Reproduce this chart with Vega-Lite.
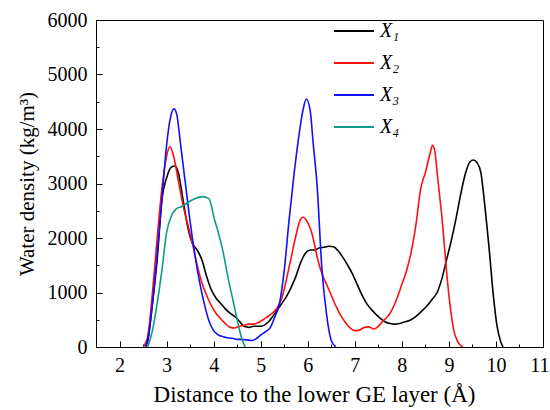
{
  "$schema": "https://vega.github.io/schema/vega-lite/v6.json",
  "width": 447,
  "height": 327,
  "autosize": {"type": "none"},
  "padding": {"left": 96, "top": 20, "right": 7, "bottom": 63},
  "background": "white",
  "config": {
    "view": {"stroke": "black", "strokeWidth": 1},
    "axis": {
      "domainColor": "black",
      "tickColor": "black",
      "labelColor": "black",
      "titleColor": "black",
      "labelFont": "Liberation Serif",
      "titleFont": "Liberation Serif",
      "labelFontSize": 20,
      "titleFontSize": 21,
      "titleFontWeight": "normal",
      "grid": false
    }
  },
  "data": {
    "values": [
      {"x": 2.55, "d": 0, "s": "X₁"}, {"x": 2.6, "d": 100, "s": "X₁"}, {"x": 2.7, "d": 800, "s": "X₁"}, {"x": 2.8, "d": 1600, "s": "X₁"}, {"x": 2.9, "d": 2700, "s": "X₁"}, {"x": 3.0, "d": 3100, "s": "X₁"}, {"x": 3.1, "d": 3300, "s": "X₁"}, {"x": 3.18, "d": 3320, "s": "X₁"}, {"x": 3.25, "d": 3200, "s": "X₁"}, {"x": 3.35, "d": 2700, "s": "X₁"}, {"x": 3.45, "d": 2200, "s": "X₁"}, {"x": 3.55, "d": 1900, "s": "X₁"}, {"x": 3.65, "d": 1780, "s": "X₁"}, {"x": 3.75, "d": 1600, "s": "X₁"}, {"x": 3.85, "d": 1300, "s": "X₁"}, {"x": 3.95, "d": 1050, "s": "X₁"}, {"x": 4.05, "d": 900, "s": "X₁"}, {"x": 4.15, "d": 800, "s": "X₁"}, {"x": 4.25, "d": 700, "s": "X₁"}, {"x": 4.35, "d": 620, "s": "X₁"}, {"x": 4.45, "d": 560, "s": "X₁"}, {"x": 4.55, "d": 470, "s": "X₁"}, {"x": 4.65, "d": 380, "s": "X₁"}, {"x": 4.75, "d": 360, "s": "X₁"}, {"x": 4.85, "d": 380, "s": "X₁"}, {"x": 4.95, "d": 380, "s": "X₁"}, {"x": 5.05, "d": 390, "s": "X₁"}, {"x": 5.15, "d": 450, "s": "X₁"}, {"x": 5.25, "d": 550, "s": "X₁"}, {"x": 5.35, "d": 680, "s": "X₁"}, {"x": 5.45, "d": 800, "s": "X₁"}, {"x": 5.55, "d": 930, "s": "X₁"}, {"x": 5.65, "d": 1100, "s": "X₁"}, {"x": 5.75, "d": 1300, "s": "X₁"}, {"x": 5.85, "d": 1550, "s": "X₁"}, {"x": 5.95, "d": 1720, "s": "X₁"}, {"x": 6.05, "d": 1780, "s": "X₁"}, {"x": 6.15, "d": 1780, "s": "X₁"}, {"x": 6.25, "d": 1820, "s": "X₁"}, {"x": 6.35, "d": 1830, "s": "X₁"}, {"x": 6.45, "d": 1850, "s": "X₁"}, {"x": 6.55, "d": 1840, "s": "X₁"}, {"x": 6.65, "d": 1760, "s": "X₁"}, {"x": 6.75, "d": 1640, "s": "X₁"}, {"x": 6.85, "d": 1500, "s": "X₁"}, {"x": 6.95, "d": 1340, "s": "X₁"}, {"x": 7.05, "d": 1150, "s": "X₁"}, {"x": 7.15, "d": 960, "s": "X₁"}, {"x": 7.25, "d": 800, "s": "X₁"}, {"x": 7.35, "d": 690, "s": "X₁"}, {"x": 7.45, "d": 600, "s": "X₁"}, {"x": 7.55, "d": 520, "s": "X₁"}, {"x": 7.65, "d": 460, "s": "X₁"}, {"x": 7.75, "d": 430, "s": "X₁"}, {"x": 7.85, "d": 420, "s": "X₁"}, {"x": 7.95, "d": 430, "s": "X₁"}, {"x": 8.05, "d": 460, "s": "X₁"}, {"x": 8.15, "d": 480, "s": "X₁"}, {"x": 8.25, "d": 530, "s": "X₁"}, {"x": 8.35, "d": 600, "s": "X₁"}, {"x": 8.45, "d": 680, "s": "X₁"}, {"x": 8.55, "d": 770, "s": "X₁"}, {"x": 8.65, "d": 880, "s": "X₁"}, {"x": 8.75, "d": 1000, "s": "X₁"}, {"x": 8.85, "d": 1250, "s": "X₁"}, {"x": 8.95, "d": 1600, "s": "X₁"}, {"x": 9.05, "d": 1950, "s": "X₁"}, {"x": 9.15, "d": 2350, "s": "X₁"}, {"x": 9.25, "d": 2800, "s": "X₁"}, {"x": 9.35, "d": 3180, "s": "X₁"}, {"x": 9.45, "d": 3400, "s": "X₁"}, {"x": 9.52, "d": 3430, "s": "X₁"}, {"x": 9.6, "d": 3380, "s": "X₁"}, {"x": 9.68, "d": 3200, "s": "X₁"}, {"x": 9.75, "d": 2700, "s": "X₁"}, {"x": 9.85, "d": 1850, "s": "X₁"}, {"x": 9.95, "d": 900, "s": "X₁"}, {"x": 10.02, "d": 400, "s": "X₁"}, {"x": 10.1, "d": 100, "s": "X₁"}, {"x": 10.15, "d": 0, "s": "X₁"},

      {"x": 2.5, "d": 0, "s": "X₂"}, {"x": 2.6, "d": 200, "s": "X₂"}, {"x": 2.7, "d": 1000, "s": "X₂"}, {"x": 2.8, "d": 2000, "s": "X₂"}, {"x": 2.9, "d": 2900, "s": "X₂"}, {"x": 3.0, "d": 3500, "s": "X₂"}, {"x": 3.07, "d": 3680, "s": "X₂"}, {"x": 3.15, "d": 3500, "s": "X₂"}, {"x": 3.25, "d": 3050, "s": "X₂"}, {"x": 3.35, "d": 2600, "s": "X₂"}, {"x": 3.45, "d": 2250, "s": "X₂"}, {"x": 3.55, "d": 1900, "s": "X₂"}, {"x": 3.65, "d": 1500, "s": "X₂"}, {"x": 3.75, "d": 1180, "s": "X₂"}, {"x": 3.85, "d": 950, "s": "X₂"}, {"x": 3.95, "d": 760, "s": "X₂"}, {"x": 4.05, "d": 620, "s": "X₂"}, {"x": 4.15, "d": 520, "s": "X₂"}, {"x": 4.25, "d": 430, "s": "X₂"}, {"x": 4.35, "d": 360, "s": "X₂"}, {"x": 4.45, "d": 350, "s": "X₂"}, {"x": 4.55, "d": 380, "s": "X₂"}, {"x": 4.65, "d": 400, "s": "X₂"}, {"x": 4.75, "d": 420, "s": "X₂"}, {"x": 4.85, "d": 420, "s": "X₂"}, {"x": 4.95, "d": 450, "s": "X₂"}, {"x": 5.05, "d": 500, "s": "X₂"}, {"x": 5.15, "d": 560, "s": "X₂"}, {"x": 5.25, "d": 620, "s": "X₂"}, {"x": 5.35, "d": 720, "s": "X₂"}, {"x": 5.45, "d": 900, "s": "X₂"}, {"x": 5.55, "d": 1250, "s": "X₂"}, {"x": 5.65, "d": 1650, "s": "X₂"}, {"x": 5.75, "d": 2050, "s": "X₂"}, {"x": 5.85, "d": 2350, "s": "X₂"}, {"x": 5.9, "d": 2380, "s": "X₂"}, {"x": 6.0, "d": 2280, "s": "X₂"}, {"x": 6.1, "d": 2050, "s": "X₂"}, {"x": 6.2, "d": 1650, "s": "X₂"}, {"x": 6.3, "d": 1350, "s": "X₂"}, {"x": 6.4, "d": 1150, "s": "X₂"}, {"x": 6.5, "d": 950, "s": "X₂"}, {"x": 6.6, "d": 750, "s": "X₂"}, {"x": 6.7, "d": 580, "s": "X₂"}, {"x": 6.8, "d": 450, "s": "X₂"}, {"x": 6.9, "d": 350, "s": "X₂"}, {"x": 7.0, "d": 300, "s": "X₂"}, {"x": 7.1, "d": 310, "s": "X₂"}, {"x": 7.2, "d": 360, "s": "X₂"}, {"x": 7.3, "d": 370, "s": "X₂"}, {"x": 7.4, "d": 330, "s": "X₂"}, {"x": 7.5, "d": 380, "s": "X₂"}, {"x": 7.6, "d": 480, "s": "X₂"}, {"x": 7.7, "d": 560, "s": "X₂"}, {"x": 7.8, "d": 700, "s": "X₂"}, {"x": 7.9, "d": 900, "s": "X₂"}, {"x": 8.0, "d": 1150, "s": "X₂"}, {"x": 8.1, "d": 1400, "s": "X₂"}, {"x": 8.2, "d": 1750, "s": "X₂"}, {"x": 8.3, "d": 2250, "s": "X₂"}, {"x": 8.4, "d": 2900, "s": "X₂"}, {"x": 8.5, "d": 3200, "s": "X₂"}, {"x": 8.6, "d": 3550, "s": "X₂"}, {"x": 8.65, "d": 3700, "s": "X₂"}, {"x": 8.7, "d": 3600, "s": "X₂"}, {"x": 8.75, "d": 3200, "s": "X₂"}, {"x": 8.8, "d": 2800, "s": "X₂"}, {"x": 8.85, "d": 2400, "s": "X₂"}, {"x": 8.9, "d": 1900, "s": "X₂"}, {"x": 8.95, "d": 1400, "s": "X₂"}, {"x": 9.0, "d": 950, "s": "X₂"}, {"x": 9.05, "d": 600, "s": "X₂"}, {"x": 9.1, "d": 320, "s": "X₂"}, {"x": 9.2, "d": 80, "s": "X₂"}, {"x": 9.3, "d": 0, "s": "X₂"},

      {"x": 2.55, "d": 0, "s": "X₃"}, {"x": 2.6, "d": 150, "s": "X₃"}, {"x": 2.7, "d": 800, "s": "X₃"}, {"x": 2.8, "d": 1700, "s": "X₃"}, {"x": 2.9, "d": 2700, "s": "X₃"}, {"x": 3.0, "d": 3700, "s": "X₃"}, {"x": 3.08, "d": 4200, "s": "X₃"}, {"x": 3.16, "d": 4370, "s": "X₃"}, {"x": 3.22, "d": 4250, "s": "X₃"}, {"x": 3.3, "d": 3700, "s": "X₃"}, {"x": 3.4, "d": 3000, "s": "X₃"}, {"x": 3.5, "d": 2300, "s": "X₃"}, {"x": 3.6, "d": 1700, "s": "X₃"}, {"x": 3.7, "d": 1200, "s": "X₃"}, {"x": 3.8, "d": 800, "s": "X₃"}, {"x": 3.9, "d": 480, "s": "X₃"}, {"x": 4.0, "d": 300, "s": "X₃"}, {"x": 4.1, "d": 220, "s": "X₃"}, {"x": 4.2, "d": 190, "s": "X₃"}, {"x": 4.3, "d": 170, "s": "X₃"}, {"x": 4.4, "d": 160, "s": "X₃"}, {"x": 4.5, "d": 140, "s": "X₃"}, {"x": 4.6, "d": 140, "s": "X₃"}, {"x": 4.7, "d": 130, "s": "X₃"}, {"x": 4.8, "d": 120, "s": "X₃"}, {"x": 4.9, "d": 150, "s": "X₃"}, {"x": 5.0, "d": 220, "s": "X₃"}, {"x": 5.1, "d": 280, "s": "X₃"}, {"x": 5.2, "d": 350, "s": "X₃"}, {"x": 5.3, "d": 550, "s": "X₃"}, {"x": 5.4, "d": 800, "s": "X₃"}, {"x": 5.5, "d": 1400, "s": "X₃"}, {"x": 5.6, "d": 2300, "s": "X₃"}, {"x": 5.7, "d": 3100, "s": "X₃"}, {"x": 5.8, "d": 3800, "s": "X₃"}, {"x": 5.9, "d": 4350, "s": "X₃"}, {"x": 5.97, "d": 4550, "s": "X₃"}, {"x": 6.05, "d": 4350, "s": "X₃"}, {"x": 6.12, "d": 3700, "s": "X₃"}, {"x": 6.2, "d": 2950, "s": "X₃"}, {"x": 6.3, "d": 1450, "s": "X₃"}, {"x": 6.4, "d": 600, "s": "X₃"}, {"x": 6.5, "d": 120, "s": "X₃"}, {"x": 6.6, "d": 0, "s": "X₃"},

      {"x": 2.6, "d": 0, "s": "X₄"}, {"x": 2.7, "d": 300, "s": "X₄"}, {"x": 2.8, "d": 800, "s": "X₄"}, {"x": 2.9, "d": 1400, "s": "X₄"}, {"x": 3.0, "d": 2100, "s": "X₄"}, {"x": 3.1, "d": 2400, "s": "X₄"}, {"x": 3.2, "d": 2530, "s": "X₄"}, {"x": 3.3, "d": 2570, "s": "X₄"}, {"x": 3.4, "d": 2620, "s": "X₄"}, {"x": 3.5, "d": 2680, "s": "X₄"}, {"x": 3.6, "d": 2720, "s": "X₄"}, {"x": 3.7, "d": 2750, "s": "X₄"}, {"x": 3.8, "d": 2760, "s": "X₄"}, {"x": 3.85, "d": 2740, "s": "X₄"}, {"x": 3.9, "d": 2720, "s": "X₄"}, {"x": 3.95, "d": 2600, "s": "X₄"}, {"x": 4.0, "d": 2400, "s": "X₄"}, {"x": 4.1, "d": 2100, "s": "X₄"}, {"x": 4.2, "d": 1750, "s": "X₄"}, {"x": 4.3, "d": 1300, "s": "X₄"}, {"x": 4.4, "d": 900, "s": "X₄"}, {"x": 4.5, "d": 500, "s": "X₄"}, {"x": 4.6, "d": 150, "s": "X₄"}, {"x": 4.67, "d": 0, "s": "X₄"}
    ]
  },
  "mark": {"type": "line", "strokeWidth": 1.6, "interpolate": "monotone", "clip": true},
  "encoding": {
    "x": {
      "field": "x",
      "type": "quantitative",
      "scale": {"domain": [1.5, 11], "nice": false, "zero": false},
      "axis": {
        "title": "Distance to the lower GE layer (Å)",
        "titleFontSize": 23,
        "titleX": 218,
        "values": [2, 2.5, 3, 3.5, 4, 4.5, 5, 5.5, 6, 6.5, 7, 7.5, 8, 8.5, 9, 9.5, 10, 10.5, 11],
        "labelExpr": "datum.value % 1 ? '' : format(datum.value, 'd')",
        "tickSize": {"condition": {"test": "datum.value % 1", "value": -3}, "value": -6},
        "labelAlign": {"condition": {"test": "datum.value == 11", "value": "right"}, "value": "center"},
        "labelOffset": {"condition": {"test": "datum.value == 11", "value": 6}, "value": 0},
        "labelPadding": 14,
        "titlePadding": 8,
        "labelFlush": false
      }
    },
    "y": {
      "field": "d",
      "type": "quantitative",
      "scale": {"domain": [0, 6000], "nice": false},
      "axis": {
        "title": "Water density (kg/m³)",
        "values": [0, 500, 1000, 1500, 2000, 2500, 3000, 3500, 4000, 4500, 5000, 5500, 6000],
        "labelExpr": "datum.value % 1000 ? '' : format(datum.value, 'd')",
        "tickSize": {"condition": {"test": "datum.value % 1000", "value": -3}, "value": -6},
        "labelPadding": 15,
        "titlePadding": 10,
        "labelFlush": false
      }
    },
    "color": {
      "field": "s",
      "type": "nominal",
      "scale": {"domain": ["X₁", "X₂", "X₃", "X₄"], "range": ["#000000", "#ff1010", "#1010ff", "#10998a"]},
      "legend": {
        "title": null,
        "orient": "none",
        "legendX": 243,
        "legendY": -4,
        "symbolType": "M-1.43,0H1.43",
        "symbolSize": 784,
        "symbolStrokeWidth": 2,
        "labelFont": "Liberation Serif",
        "labelFontStyle": "italic",
        "labelFontSize": 20,
        "labelColor": "black",
        "labelOffset": 11,
        "rowPadding": 7
      }
    }
  }
}
